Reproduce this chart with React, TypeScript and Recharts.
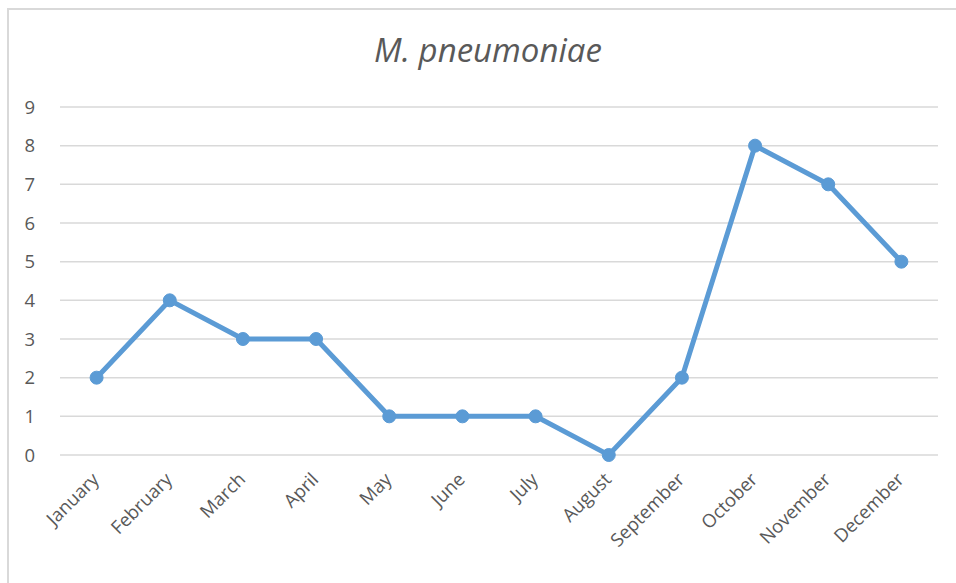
import React from "react";
import { LineChart, Line, XAxis, YAxis, CartesianGrid } from "recharts";

const months = ["January","February","March","April","May","June","July","August","September","October","November","December"];
const cases = [2, 4, 3, 3, 1, 1, 1, 0, 2, 8, 7, 5];
const yTicks = [0, 1, 2, 3, 4, 5, 6, 7, 8, 9];
const title = "M. pneumoniae";

const data = months.map((m, i) => ({ month: m, value: cases[i] }));

const FONT = "'Open Sans', 'Noto Sans', sans-serif";

const XTick = (props: any) => {
  const { x, y, payload } = props;
  return (
    <g transform={`translate(${x - 1},${y + 13})`}>
      <text
        x={0}
        y={0}
        dy="0.35em"
        textAnchor="end"
        transform="rotate(-45)"
        fill="#595959"
        fontSize={18.5}
        fontFamily={FONT}
      >
        {payload.value}
      </text>
    </g>
  );
};

export default function App() {
  return (
    <div style={{ position: "absolute", left: 0, top: 0, width: 956, height: 583, background: "#fff", overflow: "hidden" }}>
      <div
        style={{
          position: "absolute",
          left: 7,
          top: 8,
          width: 1000,
          height: 700,
          border: "2px solid #d9d9d9",
          boxSizing: "border-box",
        }}
      />
      <div
        style={{
          position: "absolute",
          left: 0,
          top: 27,
          width: 976,
          textAlign: "center",
          fontFamily: FONT,
          fontStyle: "italic",
          fontSize: 33,
          color: "#595959",
          lineHeight: "46px",
        }}
      >
        {title}
      </div>
      <div style={{ position: "absolute", left: 0, top: 0 }}>
        <LineChart
          width={956}
          height={583}
          data={data}
          margin={{ top: 107, right: 18, left: 0, bottom: 0 }}
        >
          <CartesianGrid vertical={false} stroke="#d9d9d9" strokeWidth={1.5} />
          <XAxis
            dataKey="month"
            axisLine={false}
            tickLine={false}
            interval={0}
            height={128}
            padding={{ left: 36.6, right: 36.6 }}
            tick={<XTick />}
          />
          <YAxis
            domain={[0, 9]}
            ticks={yTicks}
            interval={0}
            axisLine={false}
            tickLine={false}
            tickSize={0}
            tickMargin={25}
            width={60}
            tick={{ fill: "#595959", fontSize: 18.5, fontFamily: FONT }}
          />
          <Line
            type="linear"
            dataKey="value"
            stroke="#5b9bd5"
            strokeWidth={5}
            dot={{ r: 6.5, fill: "#5b9bd5", stroke: "#5b9bd5", strokeWidth: 1 }}
            activeDot={false}
            isAnimationActive={false}
          />
        </LineChart>
      </div>
    </div>
  );
}
